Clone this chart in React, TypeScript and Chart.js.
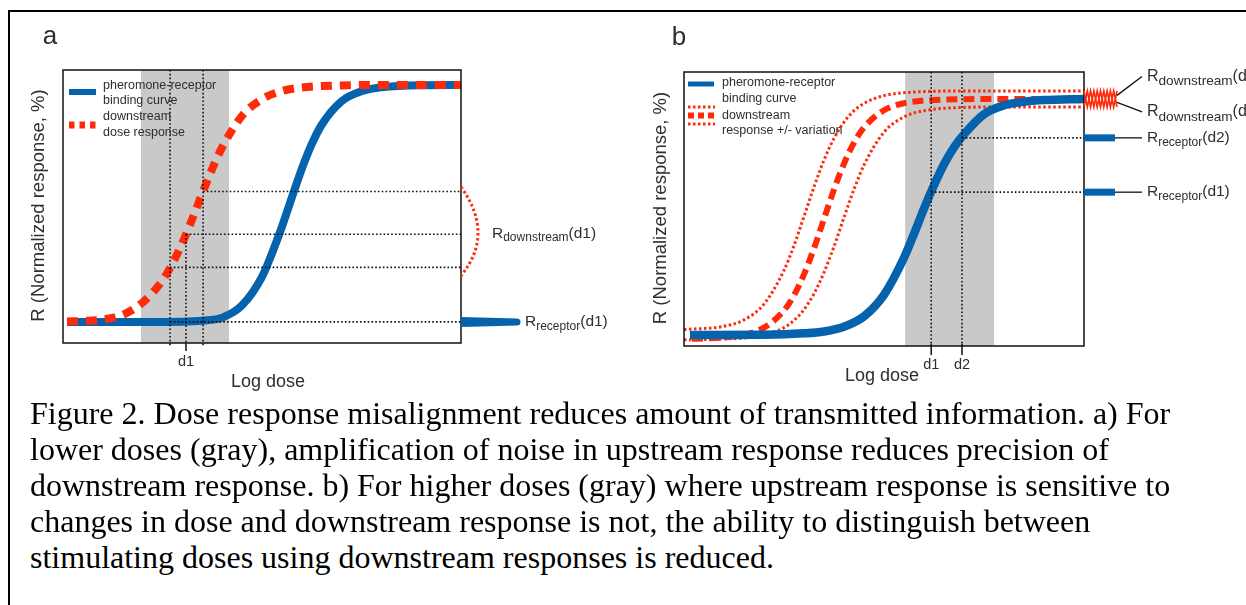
import React, { useEffect, useRef } from "react";
import { Chart, registerables } from "chart.js";

Chart.register(...registerables);

// ---------------- Panel a data ----------------
const doseReceptorA = [0.1, 1, 2, 3, 3.5, 4, 4.5, 5, 5.25, 5.5, 5.75, 6, 6.25, 6.5, 7, 7.5, 8, 9, 10];
const receptorA = [0, 0, 0, 0.1, 0.5, 1.8, 7.0, 19.0, 28.9, 40.1, 52.5, 64.6, 75.0, 83.2, 93.1, 97.3, 99.0, 99.9, 100];
const doseDownstreamA = [0.1, 0.5, 1, 1.5, 2, 2.5, 2.75, 3, 3.25, 3.5, 3.75, 4, 4.5, 5, 5.5, 6, 7, 8, 10];
const downstreamA = [0.2, 0.4, 1.0, 3.0, 8.2, 17.5, 24.6, 33.4, 43.5, 54.3, 64.6, 73.7, 87.0, 94.0, 97.4, 98.9, 99.8, 100, 100];
const bandA = [1.96, 4.17];
const markDosesA = [2.69, 3.09, 3.52]; // lower, d1, upper
const markLevelsA = [23, 37, 55];
const receptorLevelA = 0;

// ---------------- Panel b data ----------------
const doseReceptorB = [0.15, 2, 3, 3.5, 4, 4.5, 5, 5.5, 5.75, 6, 6.25, 6.5, 6.75, 7, 7.5, 8, 8.5, 9, 10];
const receptorB = [0, 0.1, 0.7, 1.5, 3.5, 7.9, 17.0, 32.7, 42.8, 53.5, 63.4, 72.3, 79.5, 85.0, 93.5, 97.3, 98.8, 99.5, 100];
const doseDownstreamB = [0.2, 1, 1.5, 2, 2.5, 2.75, 3, 3.25, 3.5, 3.75, 4, 4.25, 4.5, 5, 5.5, 6, 7, 8, 10];
const downstreamB = [-1.6, -1.0, 0.1, 3.1, 10.4, 16.8, 25.7, 36.7, 49.2, 61.6, 72.6, 81.5, 87.9, 95.2, 98.2, 99.3, 99.9, 100, 100];
const doseVariationB = [0, 1, 1.5, 2, 2.5, 2.75, 3, 3.25, 3.5, 3.75, 4, 4.25, 4.5, 5, 5.5, 6, 7, 8, 10, 10.8];
const upperB = [2.3, 3.7, 6.4, 13.1, 27.4, 37.9, 50.2, 62.7, 74.1, 83.3, 90.2, 95.0, 98.1, 101.4, 102.6, 103.1, 103.4, 103.4, 103.4, 103.4];
const lowerB = [-2, -1.7, -1.3, 0, 3.1, 6.2, 10.8, 17.5, 26.5, 37.5, 49.8, 61.7, 72.0, 85.9, 92.4, 95.0, 96.4, 96.6, 96.6, 96.6];
const bandB = [5.53, 7.75];
const markDosesB = [6.18, 6.95]; // d1, d2
const markLevelsB = [60.5, 83.5];

const captionLines = [
  "Figure 2. Dose response misalignment reduces amount of transmitted information. a) For",
  "lower doses (gray), amplification of noise in upstream response reduces precision of",
  "downstream response. b) For higher doses (gray) where upstream response is sensitive to",
  "changes in dose and downstream response is not, the ability to distinguish between",
  "stimulating doses using downstream responses is reduced.",
];

const SANS = '"Liberation Sans", Arial, Helvetica, sans-serif';
const BLUE = "#0563ae";
const RED = "#ff2a0a";
const BAND = "#c9c9c9";
const TXT = "#2e2e2e";

const pts = (xs: number[], ys: number[]) => xs.map((x, i) => ({ x, y: ys[i] }));

function dotted(ctx: CanvasRenderingContext2D, x1: number, y1: number, x2: number, y2: number) {
  ctx.save();
  ctx.strokeStyle = "#111";
  ctx.lineWidth = 1.6;
  ctx.setLineDash([1.6, 2.2]);
  ctx.beginPath();
  ctx.moveTo(x1, y1);
  ctx.lineTo(x2, y2);
  ctx.stroke();
  ctx.restore();
}

function solid(ctx: CanvasRenderingContext2D, x1: number, y1: number, x2: number, y2: number, color: string, w: number) {
  ctx.save();
  ctx.strokeStyle = color;
  ctx.lineWidth = w;
  ctx.setLineDash([]);
  ctx.beginPath();
  ctx.moveTo(x1, y1);
  ctx.lineTo(x2, y2);
  ctx.stroke();
  ctx.restore();
}

function subText(ctx: CanvasRenderingContext2D, x: number, y: number, main: string, sub: string, tail: string, big: number, small: number) {
  ctx.save();
  ctx.fillStyle = TXT;
  ctx.textBaseline = "middle";
  ctx.textAlign = "left";
  ctx.font = `${big}px ${SANS}`;
  ctx.fillText(main, x, y);
  let w = ctx.measureText(main).width;
  ctx.font = `${small}px ${SANS}`;
  ctx.fillText(sub, x + w, y + big * 0.32);
  w += ctx.measureText(sub).width;
  ctx.font = `${big}px ${SANS}`;
  ctx.fillText(tail, x + w, y);
  ctx.restore();
}

function text(ctx: CanvasRenderingContext2D, s: string, x: number, y: number, size: number, align: CanvasTextAlign = "center", color = TXT, rot = 0) {
  ctx.save();
  ctx.fillStyle = color;
  ctx.font = `${size}px ${SANS}`;
  ctx.textAlign = align;
  ctx.textBaseline = "middle";
  ctx.translate(x, y);
  if (rot) ctx.rotate(rot);
  ctx.fillText(s, 0, 0);
  ctx.restore();
}

function bandPlugin(id: string, band: number[]) {
  return {
    id,
    beforeDatasetsDraw(chart: any) {
      const { ctx, chartArea: ca, scales } = chart;
      const x0 = scales.x.getPixelForValue(band[0]);
      const x1 = scales.x.getPixelForValue(band[1]);
      ctx.save();
      ctx.fillStyle = BAND;
      ctx.fillRect(x0, ca.top, x1 - x0, ca.bottom - ca.top);
      ctx.restore();
    },
  };
}

const panelAPlugin = {
  id: "panelAOverlay",
  afterDatasetsDraw(chart: any) {
    const { ctx, chartArea: ca, scales } = chart;
    const X = (v: number) => scales.x.getPixelForValue(v);
    const Y = (v: number) => scales.y.getPixelForValue(v);

    // vertical dotted markers
    dotted(ctx, X(markDosesA[0]), ca.top, X(markDosesA[0]), ca.bottom + 3);
    dotted(ctx, X(markDosesA[2]), ca.top, X(markDosesA[2]), ca.bottom + 3);
    dotted(ctx, X(markDosesA[1]), Y(markLevelsA[1]), X(markDosesA[1]), ca.bottom);
    solid(ctx, X(markDosesA[1]), ca.bottom, X(markDosesA[1]), ca.bottom + 8, "#111", 1.5);
    // horizontal dotted
    markDosesA.forEach((d, i) => dotted(ctx, X(d), Y(markLevelsA[i]), ca.right, Y(markLevelsA[i])));
    dotted(ctx, X(markDosesA[0]), Y(receptorLevelA), ca.right, Y(receptorLevelA));

    // box
    ctx.save();
    ctx.strokeStyle = "#111";
    ctx.lineWidth = 1.5;
    ctx.strokeRect(ca.left, ca.top, ca.right - ca.left, ca.bottom - ca.top);
    ctx.restore();

    // legend
    solid(ctx, ca.left + 6, ca.top + 22, ca.left + 33, ca.top + 22, BLUE, 6);
    ctx.save();
    ctx.strokeStyle = RED;
    ctx.lineWidth = 7;
    ctx.setLineDash([5.5, 5]);
    ctx.beginPath();
    ctx.moveTo(ca.left + 6, ca.top + 55);
    ctx.lineTo(ca.left + 34, ca.top + 55);
    ctx.stroke();
    ctx.restore();
    const lx = ca.left + 40;
    text(ctx, "pheromone-receptor", lx, ca.top + 16, 12.5, "left");
    text(ctx, "binding curve", lx, ca.top + 31, 12.5, "left");
    text(ctx, "downstream", lx, ca.top + 47, 12.5, "left");
    text(ctx, "dose response", lx, ca.top + 63, 12.5, "left");

    // red dotted arc (downstream spread)
    ctx.save();
    ctx.strokeStyle = RED;
    ctx.lineWidth = 3;
    ctx.setLineDash([2.5, 2.5]);
    ctx.beginPath();
    ctx.moveTo(ca.right, Y(markLevelsA[2] + 2));
    ctx.quadraticCurveTo(ca.right + 34, Y(markLevelsA[1]), ca.right, Y(markLevelsA[0] - 3.5));
    ctx.stroke();
    ctx.restore();

    // blue receptor spread (tapered)
    const yr = Y(receptorLevelA);
    ctx.save();
    ctx.fillStyle = BLUE;
    ctx.beginPath();
    ctx.moveTo(ca.right, yr - 5);
    ctx.lineTo(ca.right + 56, yr - 3.5);
    ctx.arc(ca.right + 56, yr, 3.5, -Math.PI / 2, Math.PI / 2);
    ctx.lineTo(ca.right, yr + 5);
    ctx.closePath();
    ctx.fill();
    ctx.restore();

    subText(ctx, ca.right + 31, Y(markLevelsA[1]) - 1, "R", "downstream", "(d1)", 15.5, 12);
    subText(ctx, ca.right + 64, yr, "R", "receptor", "(d1)", 15.5, 12);

    // axis texts
    text(ctx, "a", 50, 37, 26);
    text(ctx, "d1", X(markDosesA[1]), ca.bottom + 19, 14.5);
    text(ctx, "Log dose", 268, ca.bottom + 39, 18);
    text(ctx, "R (Normalized response, %)", 38.5, (ca.top + ca.bottom) / 2 - 1, 18.5, "center", TXT, -Math.PI / 2);
  },
};

const panelBPlugin = {
  id: "panelBOverlay",
  afterDatasetsDraw(chart: any) {
    const { ctx, chartArea: ca, scales } = chart;
    const X = (v: number) => scales.x.getPixelForValue(v);
    const Y = (v: number) => scales.y.getPixelForValue(v);

    markDosesB.forEach((d) => {
      dotted(ctx, X(d), ca.top, X(d), ca.bottom);
      solid(ctx, X(d), ca.bottom - 2, X(d), ca.bottom + 9, "#111", 1.5);
    });
    markDosesB.forEach((d, i) => dotted(ctx, X(d), Y(markLevelsB[i]), ca.right, Y(markLevelsB[i])));

    ctx.save();
    ctx.strokeStyle = "#111";
    ctx.lineWidth = 1.5;
    ctx.strokeRect(ca.left, ca.top, ca.right - ca.left, ca.bottom - ca.top);
    ctx.restore();

    // legend
    solid(ctx, ca.left + 4, ca.top + 12, ca.left + 30, ca.top + 12, BLUE, 5);
    ctx.save();
    ctx.strokeStyle = RED;
    ctx.lineWidth = 3;
    ctx.setLineDash([2.5, 2.5]);
    [35, 52].forEach((dy) => {
      ctx.beginPath();
      ctx.moveTo(ca.left + 4, ca.top + dy);
      ctx.lineTo(ca.left + 31, ca.top + dy);
      ctx.stroke();
    });
    ctx.lineWidth = 6;
    ctx.setLineDash([6, 4]);
    ctx.beginPath();
    ctx.moveTo(ca.left + 4, ca.top + 43.5);
    ctx.lineTo(ca.left + 31, ca.top + 43.5);
    ctx.stroke();
    ctx.restore();
    const lx = ca.left + 38;
    text(ctx, "pheromone-receptor", lx, ca.top + 11, 12.5, "left");
    text(ctx, "binding curve", lx, ca.top + 27, 12.5, "left");
    text(ctx, "downstream", lx, ca.top + 44, 12.5, "left");
    text(ctx, "response +/- variation", lx, ca.top + 59, 12.5, "left");

    // receptor readouts
    markLevelsB.forEach((lv, i) => {
      const yy = Y(lv);
      solid(ctx, ca.right, yy, ca.right + 31, yy, BLUE, 7);
      solid(ctx, ca.right + 31, yy, ca.right + 58, yy, "#111", 1.3);
      subText(ctx, ca.right + 63, yy, "R", "receptor", i === 0 ? "(d1)" : "(d2)", 15.5, 12);
    });

    // downstream criss-cross spread
    const yTop = Y(upperB[upperB.length - 1]);
    const yBot = Y(lowerB[lowerB.length - 1]);
    ctx.save();
    ctx.strokeStyle = RED;
    ctx.lineWidth = 1.7;
    ctx.setLineDash([]);
    [0, 1].forEach((phase) => {
      ctx.beginPath();
      let up = phase === 0;
      const step = 3.3;
      for (let k = 0; k <= 10; k++) {
        const px = ca.right + k * step;
        const yy = up ? yTop : yBot;
        if (k === 0) ctx.moveTo(px, yy);
        else ctx.lineTo(px, yy);
        up = !up;
      }
      ctx.stroke();
    });
    ctx.restore();
    solid(ctx, ca.right + 33, Y(101.5), ca.right + 58, Y(109.5), "#111", 1.3);
    solid(ctx, ca.right + 33, Y(98.5), ca.right + 58, Y(94.5), "#111", 1.3);
    subText(ctx, ca.right + 63, Y(109.5), "R", "downstream", "(d1)", 16, 13.6);
    subText(ctx, ca.right + 63, Y(94.5), "R", "downstream", "(d2)", 16, 13.6);

    text(ctx, "b", 49, 38, 26);
    text(ctx, "d1", X(markDosesB[0]), ca.bottom + 19, 14.5);
    text(ctx, "d2", X(markDosesB[1]), ca.bottom + 19, 14.5);
    text(ctx, "Log dose", 252, ca.bottom + 30, 18);
    text(ctx, "R (Normalized response, %)", 31, (ca.top + ca.bottom) / 2 - 1, 18.5, "center", TXT, -Math.PI / 2);
  },
};

function baseOptions(padding: any, yMin: number, yMax: number) {
  return {
    animation: false,
    responsive: false,
    devicePixelRatio: 1,
    events: [],
    layout: { padding },
    plugins: { legend: { display: false }, tooltip: { enabled: false } },
    scales: {
      x: { type: "linear", min: 0, max: 10, display: false },
      y: { type: "linear", min: yMin, max: yMax, display: false },
    },
    elements: { point: { radius: 0 } },
  };
}

export default function App() {
  const refA = useRef<HTMLCanvasElement>(null);
  const refB = useRef<HTMLCanvasElement>(null);

  useEffect(() => {
    const chartA = new Chart(refA.current as HTMLCanvasElement, {
      type: "line",
      data: {
        datasets: [
          {
            label: "downstream dose response",
            data: pts(doseDownstreamA, downstreamA),
            borderColor: RED,
            borderWidth: 8,
            borderDash: [11, 8],
            cubicInterpolationMode: "monotone",
            fill: false,
          },
          {
            label: "pheromone-receptor binding curve",
            data: pts(doseReceptorA, receptorA),
            borderColor: BLUE,
            borderWidth: 8,
            cubicInterpolationMode: "monotone",
            fill: false,
          },
        ],
      },
      options: baseOptions({ left: 63, top: 70, right: 169, bottom: 57 }, -8.9, 106.3) as any,
      plugins: [bandPlugin("bandA", bandA), panelAPlugin],
    } as any);

    const chartB = new Chart(refB.current as HTMLCanvasElement, {
      type: "line",
      data: {
        datasets: [
          {
            label: "pheromone-receptor binding curve",
            data: pts(doseReceptorB, receptorB),
            borderColor: BLUE,
            borderWidth: 8.5,
            cubicInterpolationMode: "monotone",
            fill: false,
          },
          {
            label: "downstream response",
            data: pts(doseDownstreamB, downstreamB),
            borderColor: RED,
            borderWidth: 6,
            borderDash: [11, 6],
            cubicInterpolationMode: "monotone",
            fill: false,
          },
          {
            label: "+ variation",
            data: pts(doseVariationB, upperB),
            borderColor: RED,
            borderWidth: 3,
            borderDash: [2.5, 2.5],
            cubicInterpolationMode: "monotone",
            fill: false,
            clip: { left: 2, top: 10, right: 40, bottom: 2 },
          },
          {
            label: "- variation",
            data: pts(doseVariationB, lowerB),
            borderColor: RED,
            borderWidth: 3,
            borderDash: [2.5, 2.5],
            cubicInterpolationMode: "monotone",
            fill: false,
            clip: { left: 2, top: 10, right: 40, bottom: 2 },
          },
        ],
      },
      options: baseOptions({ left: 54, top: 72, right: 162, bottom: 54 }, -4.66, 111.4) as any,
      plugins: [bandPlugin("bandB", bandB), panelBPlugin],
    } as any);

    return () => {
      chartA.destroy();
      chartB.destroy();
    };
  }, []);

  return (
    <div style={{ position: "absolute", left: 0, top: 0, width: 1246, height: 605, overflow: "hidden", background: "#fff" }}>
      <div
        style={{
          position: "absolute",
          left: 8,
          top: 10,
          width: 1400,
          height: 800,
          borderTop: "2px solid #000",
          borderLeft: "2px solid #000",
        }}
      />
      <canvas ref={refA} width={630} height={400} style={{ position: "absolute", left: 0, top: 0, width: 630, height: 400 }} />
      <canvas ref={refB} width={616} height={400} style={{ position: "absolute", left: 630, top: 0, width: 616, height: 400 }} />
      {captionLines.map((line, i) => (
        <div
          key={i}
          style={{
            position: "absolute",
            left: 30,
            top: 395 + i * 36,
            whiteSpace: "nowrap",
            fontFamily: '"Liberation Serif", "Times New Roman", serif',
            fontSize: 32,
            lineHeight: "36px",
            color: "#000",
          }}
        >
          {line}
        </div>
      ))}
    </div>
  );
}
